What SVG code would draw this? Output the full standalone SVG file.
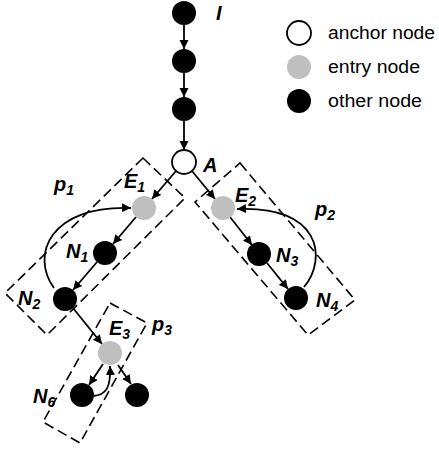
<svg xmlns="http://www.w3.org/2000/svg" width="439" height="451" viewBox="0 0 439 451">
  <style>
    .other { fill: #000; }
    .entry { fill: #BFBFBF; }
    .anchor { fill: #fff; stroke: #000; stroke-width: 1.8; }
    .edge { fill: none; stroke: #000; stroke-width: 1.8; marker-end: url(#arrow); }
    .path-box { fill: none; stroke: #000; stroke-width: 1.6; stroke-dasharray: 10 5; }
    .lbl { font-family: "Liberation Sans", Arial, sans-serif; font-weight: bold; font-style: italic; font-size: 20px; fill: #000; }
    .sub { font-size: 14px; }
    .legend-text { font-family: "Liberation Sans", Arial, sans-serif; font-size: 17.5px; fill: #000; }
  </style>
  <defs>
    <marker id="arrow" viewBox="0 0 10 10" refX="10" refY="5" markerWidth="9" markerHeight="10" markerUnits="userSpaceOnUse" orient="auto">
      <path d="M0,0 L10,5 L0,10 z" fill="#000"/>
    </marker>
  </defs>

  <rect width="439" height="451" fill="#fff"/>

  <!-- dashed boxes around the three paths -->
  <g id="boxes">
    <polygon id="box-p1" class="path-box" points="143,158 185,198 47,335 5,293"/>
    <polygon id="box-p2" class="path-box" points="240,163 355,300 308,335 195,202"/>
    <polygon id="box-p3" class="path-box" points="110,303 147,323 80,443 43,422"/>
  </g>

  <!-- connectors -->
  <g id="connectors">
    <line class="edge" x1="184" y1="25" x2="184" y2="49"/>
    <line class="edge" x1="184" y1="73" x2="184" y2="97"/>
    <line class="edge" x1="184" y1="121" x2="184" y2="150"/>
    <line class="edge" x1="176" y1="171" x2="152" y2="199"/>
    <line class="edge" x1="192" y1="171" x2="215" y2="199"/>
    <line class="edge" x1="136" y1="217" x2="113" y2="244"/>
    <line class="edge" x1="97" y1="262" x2="73" y2="290"/>
    <line class="edge" x1="230" y1="217" x2="252" y2="245"/>
    <line class="edge" x1="267" y1="263" x2="288" y2="289"/>
    <line class="edge" x1="73" y1="308" x2="102" y2="344"/>
    <line class="edge" x1="103" y1="364" x2="89" y2="385"/>
    <line class="edge" x1="118" y1="365" x2="131" y2="384"/>
    <path class="edge" d="M54,288 C30,255 50,205 131,208"/>
    <path class="edge" d="M304,287 C328,258 320,205 237,209"/>
    <path class="edge" d="M93,396 C106,395 111,388 110,366"/>
  </g>

  <!-- main chain -->
  <g id="node-I"><circle class="other" cx="184" cy="13" r="12"/><text class="lbl" x="216" y="20">I</text></g>
  <g id="node-c2"><circle class="other" cx="184" cy="61" r="12"/></g>
  <g id="node-c3"><circle class="other" cx="184" cy="109" r="12"/></g>
  <g id="node-A"><circle class="anchor" cx="184" cy="162" r="12"/><text class="lbl" x="203" y="172">A</text></g>

  <!-- path p1 -->
  <g id="node-E1"><circle class="entry" cx="144" cy="208" r="12"/><text class="lbl" x="124" y="188">E<tspan class="sub" dy="4">1</tspan></text></g>
  <g id="node-N1"><circle class="other" cx="105" cy="253" r="12"/><text class="lbl" x="66" y="258">N<tspan class="sub" dy="4">1</tspan></text></g>
  <g id="node-N2"><circle class="other" cx="65" cy="299" r="12"/><text class="lbl" x="18" y="305">N<tspan class="sub" dy="4">2</tspan></text></g>
  <text id="label-p1" class="lbl" x="54" y="191">p<tspan class="sub" dy="4">1</tspan></text>

  <!-- path p2 -->
  <g id="node-E2"><circle class="entry" cx="223" cy="208" r="12"/><text class="lbl" x="235" y="202">E<tspan class="sub" dy="4">2</tspan></text></g>
  <g id="node-N3"><circle class="other" cx="259" cy="254" r="12"/><text class="lbl" x="276" y="262">N<tspan class="sub" dy="4">3</tspan></text></g>
  <g id="node-N4"><circle class="other" cx="296" cy="298" r="12"/><text class="lbl" x="316" y="307">N<tspan class="sub" dy="4">4</tspan></text></g>
  <text id="label-p2" class="lbl" x="315" y="216">p<tspan class="sub" dy="4">2</tspan></text>

  <!-- path p3 -->
  <g id="node-E3"><circle class="entry" cx="110" cy="353" r="12"/><text class="lbl" x="109" y="335">E<tspan class="sub" dy="4">3</tspan></text></g>
  <g id="node-N6"><circle class="other" cx="82" cy="395" r="12"/><text class="lbl" x="33" y="403">N<tspan class="sub" dy="4">6</tspan></text></g>
  <g id="node-N7"><circle class="other" cx="137" cy="395" r="12"/></g>
  <text id="label-p3" class="lbl" x="152" y="331">p<tspan class="sub" dy="4">3</tspan></text>

  <!-- legend -->
  <g id="legend">
    <g id="legend-anchor"><circle class="anchor" cx="299" cy="33" r="12"/><text class="legend-text" x="328" y="39" textLength="107" lengthAdjust="spacingAndGlyphs">anchor node</text></g>
    <g id="legend-entry"><circle class="entry" cx="299" cy="67" r="12"/><text class="legend-text" x="328" y="73" textLength="92" lengthAdjust="spacingAndGlyphs">entry node</text></g>
    <g id="legend-other"><circle class="other" cx="299" cy="101" r="12"/><text class="legend-text" x="328" y="107" textLength="94" lengthAdjust="spacingAndGlyphs">other node</text></g>
  </g>
</svg>
